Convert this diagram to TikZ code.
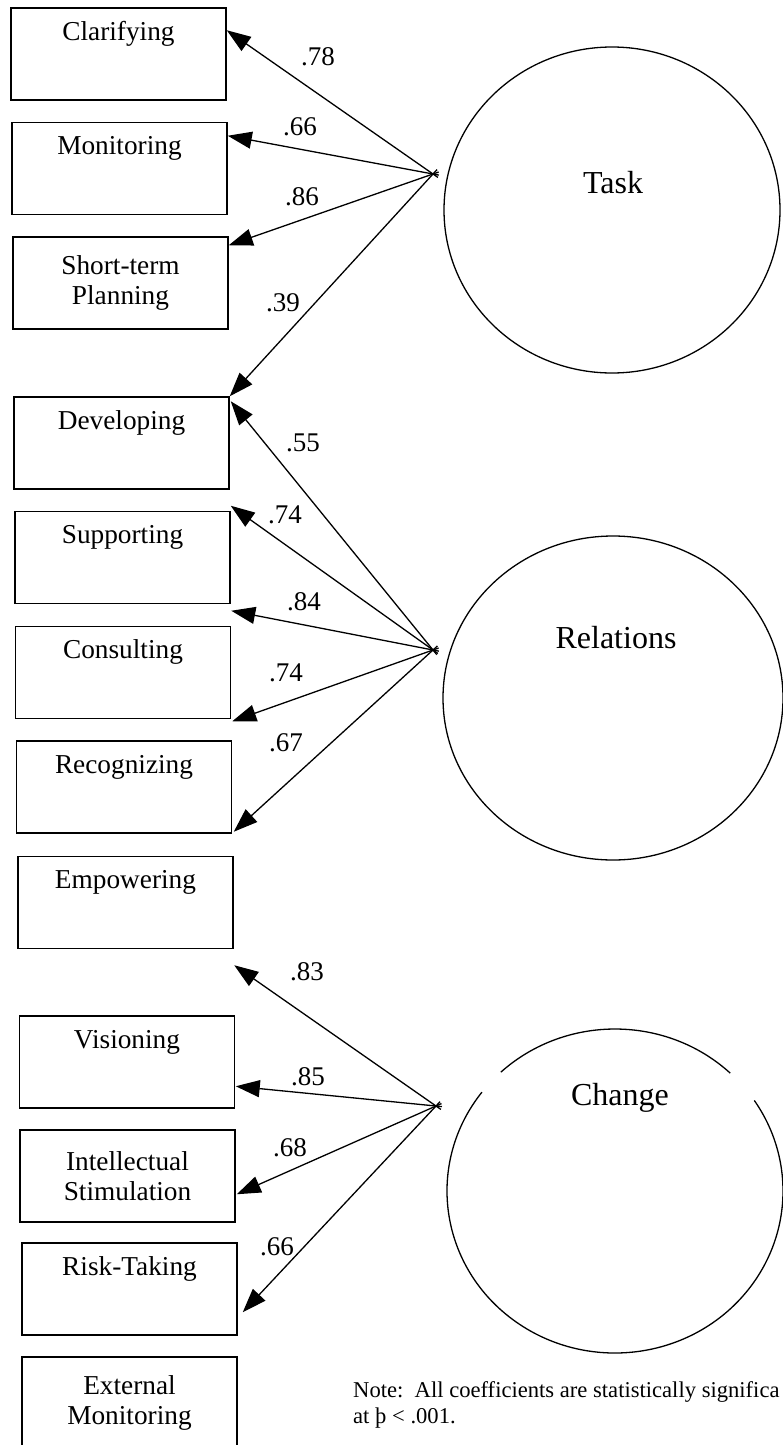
\documentclass[tikz,border=0pt]{standalone}
\usepackage{fontspec}
\setmainfont{Liberation Serif}
\usetikzlibrary{arrows.meta,shapes.geometric}
\begin{document}
\begin{tikzpicture}[x=1pt,y=1pt,
 box/.style={draw, line width=1.5pt, minimum width=215pt, minimum height=92pt, inner sep=0pt},
 boxtxt/.style={font=\fontsize{27.3pt}{30pt}\selectfont, align=center},
 blab/.style={anchor=base, yshift=-33pt, inner sep=0pt, font=\fontsize{27.3pt}{30pt}\selectfont},
 lat/.style={draw, line width=1.3pt, shape=ellipse, inner sep=0pt},
 circ/.style={draw, line width=1.3pt},
 latlab/.style={font=\fontsize{32pt}{36pt}\selectfont, inner sep=0pt},
 coef/.style={font=\fontsize{27pt}{30pt}\selectfont, inner sep=0pt},
 load/.style={line width=1.3pt, -{Triangle[length=24pt,width=17pt]}, shorten <=-6pt},
 notetxt/.style={anchor=base west, inner sep=0pt, font=\fontsize{22.6pt}{27pt}\selectfont}
]
\fill[white] (0,0) rectangle (783,-1445);
\useasboundingbox (0,0) rectangle (783,-1445);

% indicator boxes
\node[box, label={[blab]north:Clarifying}] (clar) at (118.5,-54) {};
\node[box, label={[blab]north:Monitoring}] (mon) at (119.5,-168.5) {};
\node[box, boxtxt] (short) at (120.5,-283) {Short-term\\Planning};
\node[box, label={[blab]north:Developing}] (dev) at (121.5,-443) {};
\node[box, label={[blab]north:Supporting}] (sup) at (122.5,-557.5) {};
\node[box, label={[blab]north:Consulting}] (cons) at (123,-672.5) {};
\node[box, label={[blab]north:Recognizing}] (rec) at (124,-787) {};
\node[box, label={[blab]north:Empowering}] (emp) at (125.5,-902.5) {};
\node[box, label={[blab]north:Visioning}] (vis) at (127,-1062) {};
\node[box, boxtxt] (intl) at (127.5,-1176) {Intellectual\\Stimulation};
\node[box, label={[blab]north:Risk-Taking}] (risk) at (129.5,-1289) {};
\node[box, boxtxt] (ext) at (129.5,-1403) {External\\Monitoring};

% latent factors
\node[lat, minimum width=336pt, minimum height=326pt] (task) at (612,-210) {};
\node[latlab] (taskL) at (613,-183) {Task};
\node[lat, minimum width=340pt, minimum height=324pt] (rel) at (613,-698) {};
\node[latlab] (relL) at (616,-638) {Relations};
\coordinate (chg) at (615,-1191);
\draw[circ] (chg) ++(46.7:168pt and 162pt) arc[start angle=46.7, end angle=132.8, x radius=168pt, y radius=162pt];
\draw[circ] (chg) ++(142.4:168pt and 162pt) arc[start angle=142.4, end angle=394, x radius=168pt, y radius=162pt];
\node[latlab] (chgL) at (620,-1098) {Change};

% junction points
\coordinate (tJ) at (433,-174);
\coordinate (rJ) at (433,-650);
\coordinate (cJ) at (436,-1106);

% Task loadings
\draw[load] (tJ) -- ([yshift=-23pt]clar.north east);
\draw[load] (tJ) -- ([yshift=-14pt]mon.north east);
\draw[load] (tJ) -- ([yshift=-9pt]short.north east);
\draw[load] (tJ) -- (dev.north east);
% Relations loadings
\draw[load] (rJ) -- ([yshift=-5pt,xshift=1pt]dev.north east);
\draw[load] (rJ) -- ([yshift=5pt]sup.north east);
\draw[load] (rJ) -- ([yshift=15pt]cons.north east);
\draw[load] (rJ) -- ([yshift=19pt]rec.north east);
\draw[load] (rJ) -- ([yshift=24pt]emp.north east);
% Change loadings
\draw[load] (cJ) -- ([yshift=50pt,xshift=-1pt]vis.north east);
\draw[load] (cJ) -- ([yshift=43pt]intl.north east);
\draw[load] (cJ) -- ([yshift=48pt,xshift=-1pt]risk.north east);
\draw[load] (cJ) -- ([yshift=44pt,xshift=5pt]ext.north east);

% coefficients
\node[coef] (k1) at (318,-57) {.78};
\node[coef] (k2) at (300,-127) {.66};
\node[coef] (k3) at (302,-197) {.86};
\node[coef] (k4) at (283,-303) {.39};
\node[coef] (k5) at (303,-443) {.55};
\node[coef] (k6) at (285,-515) {.74};
\node[coef] (k7) at (304,-602) {.84};
\node[coef] (k8) at (286,-673) {.74};
\node[coef] (k9) at (286,-743) {.67};
\node[coef] (k10) at (307,-972) {.83};
\node[coef] (k11) at (308,-1077) {.85};
\node[coef] (k12) at (290,-1148) {.68};
\node[coef] (k13) at (277,-1247) {.66};

% note
\node[notetxt] (note1) at (353,-1397) {Note:\ \ All coefficients are statistically significa};
\node[notetxt] (note2) at (353,-1423) {at þ < .001.};
\end{tikzpicture}
\end{document}
